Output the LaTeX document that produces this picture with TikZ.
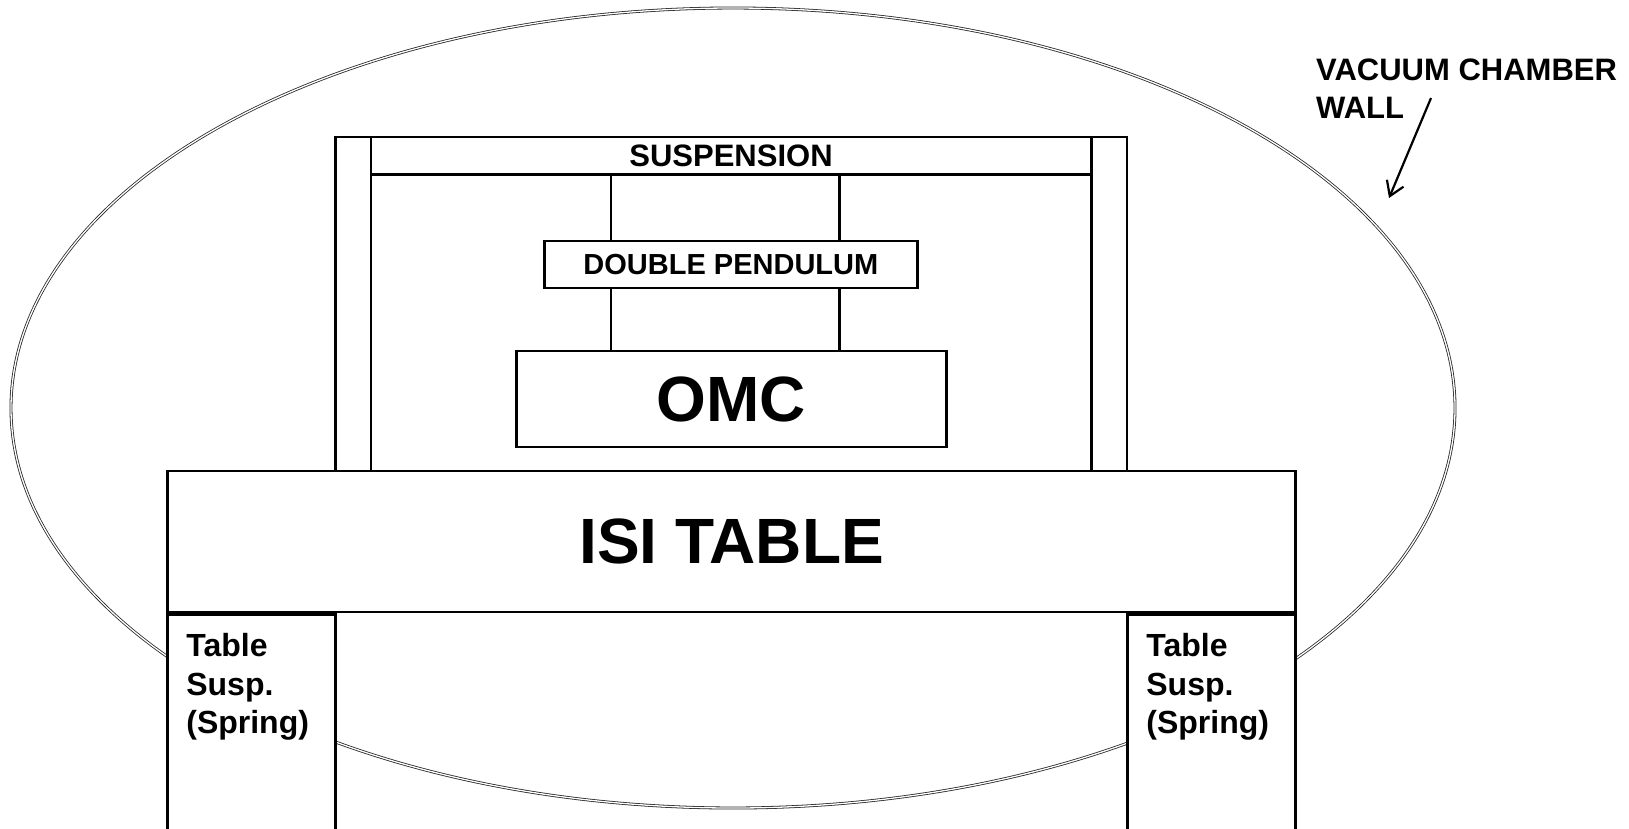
\documentclass[tikz,border=0pt]{standalone}
\usepackage{fontspec}
\setmainfont{Liberation Sans}
\usetikzlibrary{positioning,arrows.meta}

\begin{document}
\begin{tikzpicture}[x=1pt,y=-1pt]
\tikzset{box/.style={draw,line width=2.4pt,fill=white,inner sep=0pt},
         hanger/.style={line width=2.4pt},
         small/.style={font=\bfseries\fontsize{29}{35}\selectfont},
         big/.style={font=\bfseries\fontsize{64}{76}\selectfont},
         springtext/.style={align=left,inner sep=0pt,font=\bfseries\fontsize{32}{38.4}\selectfont}}
\useasboundingbox (0,0) rectangle (1629,828);

% chamber wall
\draw[gray!30!black,line width=0.8pt,double=white,double distance=1.3pt]
    (733,408) ellipse [x radius=722, y radius=400];

% frame and suspension bar
\node[box,minimum width=35.3,minimum height=333.6] (frameL) at (353.3,303.9) {};
\node[box,minimum width=35.3,minimum height=333.6] (frameR) at (1109.2,303.9) {};
\node[box,font=\bfseries\fontsize{31}{37}\selectfont,minimum width=720.1,minimum height=37.4] (susp) at (731,155.8) {SUSPENSION};

\node[box,small,minimum width=373,minimum height=46.8] (dp) at (730.9,264.4) {DOUBLE PENDULUM};
\node[box,big,minimum width=430,minimum height=95.6] (omc) at (731.5,399) {OMC};
\node[box,big,minimum width=1128.3,minimum height=141.3] (isi) at (731.5,541.4) {ISI TABLE};

% table springs
\node[box,anchor=north west,minimum width=168.3,minimum height=230] (springL) at (isi.south west) {};
\node[box,anchor=north east,minimum width=168.3,minimum height=230] (springR) at (isi.south east) {};
\node[springtext,below right=20pt and 20pt of springL.north west] (springLtxt) {Table\\Susp.\\(Spring)};
\node[springtext,below right=20pt and 20pt of springR.north west] (springRtxt) {Table\\Susp.\\(Spring)};

% wires
\coordinate (hl) at (611,0);
\coordinate (hr) at (839.5,0);
\foreach \h in {hl,hr} {
    \draw[hanger] (susp.south -| \h) -- (dp.north -| \h);
    \draw[hanger] (dp.south -| \h) -- (omc.north -| \h);
}

% wall label
\node[anchor=north west,align=left,inner sep=0pt,font=\bfseries\fontsize{31}{37.2}\selectfont] (wall) at (1316,59) {VACUUM CHAMBER\\WALL};
\coordinate (wallptr) at (1431,98);
\coordinate (walltip) at (1389,198);
\draw[line width=2.2pt,-{Straight Barb[length=14pt,width=18pt]}] (wallptr) -- (walltip);
\end{tikzpicture}
\end{document}
